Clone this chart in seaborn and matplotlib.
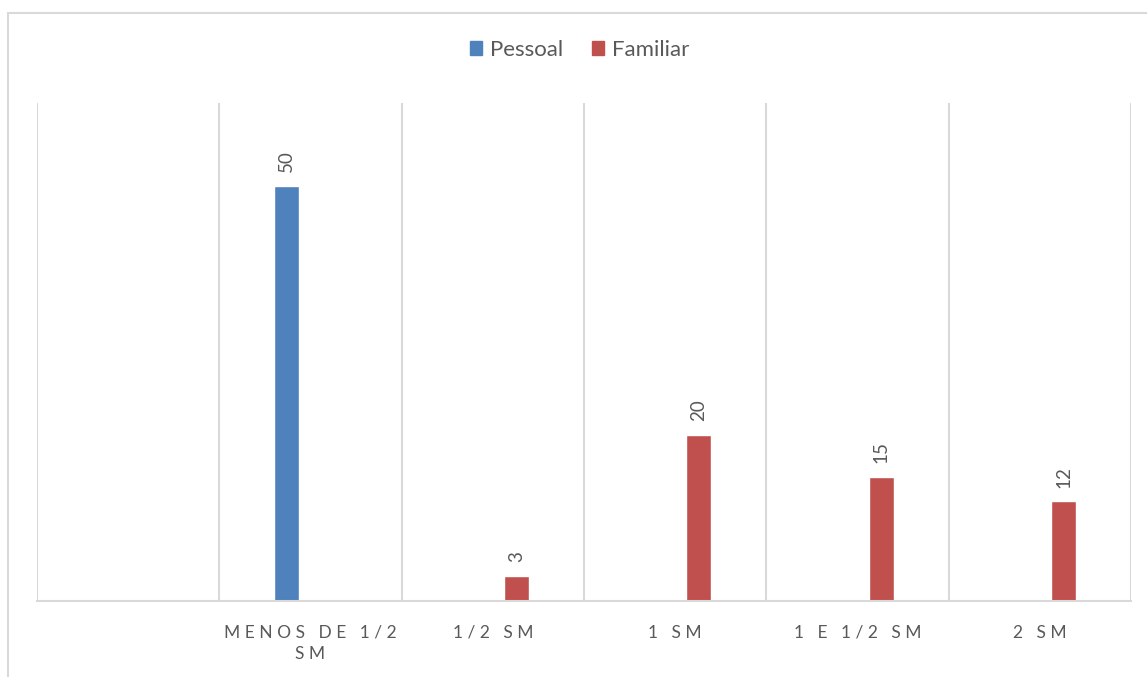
import matplotlib
matplotlib.use("Agg")
import matplotlib.pyplot as plt
import matplotlib.patches as mpatches
import numpy as np
import pandas as pd
import seaborn as sns

# ---- data ----
categories = ["", "MENOS DE 1/2\nSM", "1/2 SM", "1 SM", "1 E 1/2 SM", "2 SM"]
pessoal = [np.nan, 50, np.nan, np.nan, np.nan, np.nan]
familiar = [np.nan, np.nan, 3, 20, 15, 12]
series = ["Pessoal", "Familiar"]
colors = ["#4F81BD", "#C0504D"]

def spaced(s):
    lines = []
    for line in s.split("\n"):
        words = line.split(" ")
        lines.append("   ".join(" ".join(list(w)) for w in words))
    return "\n".join(lines)

keys = [f"c{i}" for i in range(len(categories))]
df = pd.DataFrame({
    "cat": keys * 2,
    "serie": [series[0]] * len(keys) + [series[1]] * len(keys),
    "valor": pessoal + familiar,
})
df = df.dropna()

sns.set_theme(style="white")
plt.rcParams["font.family"] = ["Lato", "DejaVu Sans"]

fig = plt.figure(figsize=(11.47, 6.77), dpi=100)
ax = fig.add_axes([37 / 1147, 1 - 601 / 677, (1131 - 37) / 1147, (601 - 103) / 677])

sns.barplot(data=df, x="cat", y="valor", hue="serie", order=keys,
            hue_order=series, palette=colors, width=0.52, gap=0.47,
            dodge=True, saturation=1, ax=ax, legend=False, errorbar=None)

ax.set_ylim(0, 60)
ax.set_xlim(-0.5, len(keys) - 0.5)
ax.set_xlabel("")
ax.set_ylabel("")
ax.set_yticks([])
ax.set_xticks(range(len(keys)))
ax.set_xticklabels([spaced(c) for c in categories], fontsize=12.5,
                   color="#595959", linespacing=1.45)
ax.tick_params(axis="x", length=0, pad=17)

# vertical gridlines at category boundaries
ax.set_xticks(np.arange(-0.5, len(keys), 1.0), minor=True)
ax.tick_params(axis="x", which="minor", length=0)
ax.grid(False)
ax.grid(True, axis="x", which="minor", color="#D9D9D9", linewidth=1.5)

for s in ["top", "right", "left"]:
    ax.spines[s].set_visible(False)
ax.spines["bottom"].set_color("#D9D9D9")
ax.spines["bottom"].set_linewidth(1.5)

for cont in ax.containers:
    ax.bar_label(cont, fmt="%g", rotation=90, padding=10, fontsize=13.5,
                 color="#595959")

handles = [mpatches.Patch(color=c, label=s) for s, c in zip(series, colors)]
fig.legend(handles=handles, loc="center", bbox_to_anchor=(0.505, 1 - 50 / 677),
           ncol=2, frameon=False, fontsize=16, handlelength=0.55,
           handleheight=0.55, handletextpad=0.35, columnspacing=1.3,
           labelcolor="#595959")

# outer chart border (partially visible)
fig.patches.append(mpatches.Rectangle((8 / 1147, -0.1), 2.0, 1.1 - 13 / 677,
                                      transform=fig.transFigure, fill=False,
                                      edgecolor="#D9D9D9", linewidth=1.5))

fig.savefig("out.png", dpi=100, facecolor="white")
